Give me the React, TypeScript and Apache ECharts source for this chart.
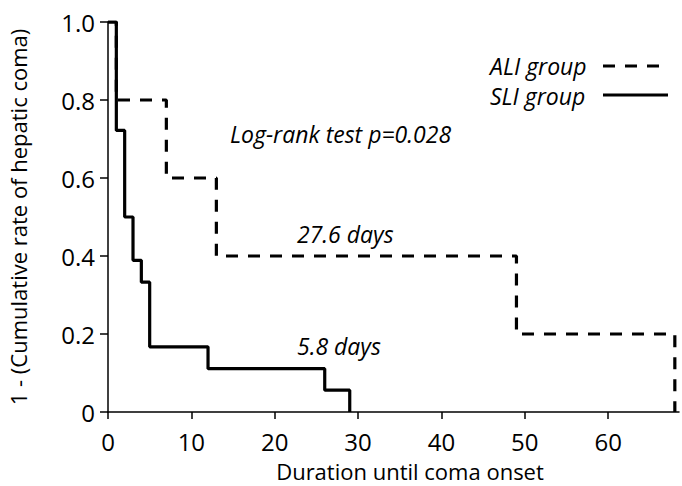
import React, { useEffect, useRef } from "react";
import * as echarts from "echarts";

// Kaplan-Meier style step data: [days, 1 - cumulative rate]
const aliDays = [0, 1, 7, 13, 49, 68];
const aliValues = [1.0, 0.8, 0.6, 0.4, 0.2, 0];

const sliDays = [0, 1, 2, 3, 4, 5, 12, 26, 29];
const sliValues = [1.0, 0.722, 0.5, 0.389, 0.333, 0.167, 0.111, 0.056, 0];

const xTicks = [0, 10, 20, 30, 40, 50, 60];

const FONT = "'Open Sans', 'Noto Sans', sans-serif";

export default function App() {
  const ref = useRef<HTMLDivElement>(null);

  useEffect(() => {
    if (!ref.current) return;
    const chart = echarts.init(ref.current, null, { renderer: "svg" });
    const ali = aliDays.map((d, i) => [d, aliValues[i]]);
    const sli = sliDays.map((d, i) => [d, sliValues[i]]);
    const italic = {
      fontFamily: FONT,
      fontStyle: "italic",
      fontSize: 23,
      fill: "#000",
      verticalAlign: "middle",
    };
    chart.setOption({
      animation: false,
      backgroundColor: "#fff",
      grid: { left: 108, right: 3, top: 22, bottom: 74, containLabel: false, outerBoundsMode: "none" },
      xAxis: {
        type: "value",
        min: 0,
        max: 68.5,
        interval: 10,
        splitLine: { show: false },
        axisLine: { show: true, onZero: false, lineStyle: { color: "#000", width: 1.5 } },
        axisTick: { show: true, length: 7, customValues: xTicks, lineStyle: { color: "#000", width: 1.5 } },
        axisLabel: {
          customValues: xTicks,
          fontFamily: FONT,
          fontSize: 24,
          color: "#000",
          margin: 17,
        },
      },
      yAxis: {
        type: "value",
        min: 0,
        max: 1,
        interval: 0.2,
        splitLine: { show: false },
        axisLine: { show: true, onZero: false, lineStyle: { color: "#000", width: 1.5 } },
        axisTick: { show: true, length: 8, lineStyle: { color: "#000", width: 1.5 } },
        axisLabel: {
          fontFamily: FONT,
          fontSize: 24,
          color: "#000",
          margin: 13,
          formatter: (v: number) => (v === 0 ? "0" : v.toFixed(1)),
        },
      },
      series: [
        {
          name: "ALI group",
          type: "line",
          step: "end",
          data: ali,
          symbol: "none",
          lineStyle: { color: "#000", width: 3.2, type: [12, 10] },
          z: 2,
        },
        {
          name: "SLI group",
          type: "line",
          step: "end",
          data: sli,
          symbol: "none",
          lineStyle: { color: "#000", width: 3.2, type: "solid" },
          z: 3,
        },
      ],
      graphic: [
        {
          type: "text",
          x: 18,
          y: 217,
          rotation: Math.PI / 2,
          style: {
            text: "1 - (Cumulative rate of hepatic coma)",
            fontFamily: FONT,
            fontSize: 22,
            fill: "#000",
            align: "center",
            verticalAlign: "middle",
          },
        },
        {
          type: "text",
          x: 410,
          y: 471,
          style: {
            text: "Duration until coma onset",
            fontFamily: FONT,
            fontSize: 22,
            fill: "#000",
            align: "center",
            verticalAlign: "middle",
          },
        },
        { type: "text", x: 490, y: 66, style: { ...italic, text: "ALI group" } },
        {
          type: "line",
          shape: { x1: 603, y1: 66, x2: 659, y2: 66 },
          style: { stroke: "#000", lineWidth: 3.2, lineDash: [12, 10] },
        },
        { type: "text", x: 490, y: 96, style: { ...italic, text: "SLI group" } },
        {
          type: "line",
          shape: { x1: 603, y1: 95, x2: 668, y2: 95 },
          style: { stroke: "#000", lineWidth: 3.2 },
        },
        { type: "text", x: 230, y: 134, style: { ...italic, text: "Log-rank test p=0.028" } },
        { type: "text", x: 297, y: 234, style: { ...italic, text: "27.6 days" } },
        { type: "text", x: 297, y: 346, style: { ...italic, text: "5.8 days" } },
      ],
    });
    return () => chart.dispose();
  }, []);

  return (
    <div
      ref={ref}
      style={{ position: "fixed", left: 0, top: 0, width: 682, height: 486 }}
    />
  );
}
